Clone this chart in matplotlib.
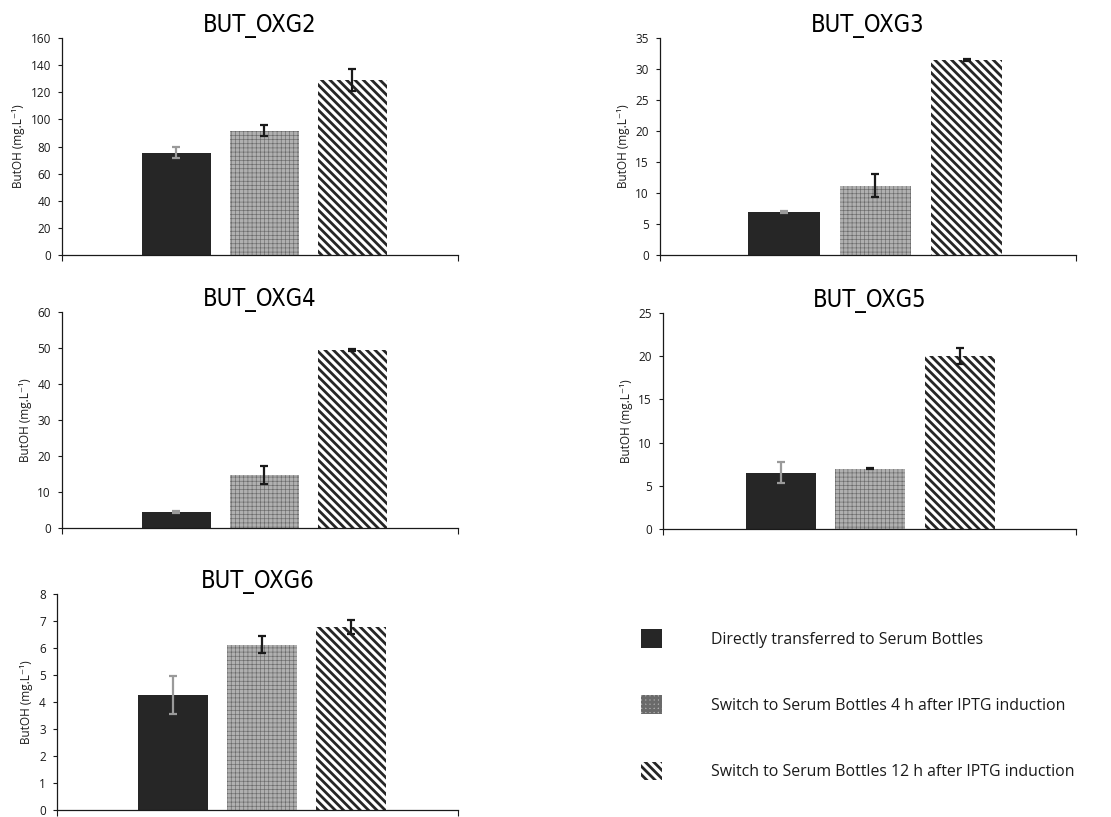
import matplotlib
matplotlib.use("Agg")
import matplotlib.pyplot as plt
from matplotlib.patches import Patch

plt.rcParams['font.family'] = ['Open Sans', 'DejaVu Sans']

titles = ["BUT_OXG2", "BUT_OXG3", "BUT_OXG4", "BUT_OXG5", "BUT_OXG6"]
series_labels = ["Directly transferred to Serum Bottles",
                 "Switch to Serum Bottles 4 h after IPTG induction",
                 "Switch to Serum Bottles 12 h after IPTG induction"]
direct = [75.5, 6.9, 4.4, 6.5, 4.25]
direct_err = [4.0, 0.15, 0.3, 1.2, 0.7]
switch4 = [91.5, 11.2, 14.8, 7.0, 6.12]
switch4_err = [4.0, 1.8, 2.5, 0.08, 0.32]
switch12 = [129.0, 31.4, 49.4, 20.0, 6.77]
switch12_err = [8.0, 0.15, 0.3, 0.9, 0.25]
ymax = [160, 35, 60, 25, 8]
ystep = [20, 5, 10, 5, 1]

W, H = 1111, 817
fig = plt.figure(figsize=(W / 100, H / 100), dpi=100)

# axes rectangles in pixels: left, right, top, bottom
rects = [(62, 458, 38, 255), (660, 1076, 38, 255), (62, 458, 312, 528),
         (663, 1076, 313, 529), (57, 458, 594, 810)]
xlims = [(-1.3, 3.2), (-1.36, 3.2), (-1.3, 3.2), (-1.31, 3.29), (-1.3, 3.2)]

styles = [dict(facecolor='#262626', edgecolor='#262626', hatch=None),
          dict(facecolor='#b0b0b0', edgecolor='#6a6a6a', hatch='++++'),
          dict(facecolor='white', edgecolor='#262626', hatch='\\\\\\\\')]
hatch_lw = [0.5, 0.45, 2.0]
err_colors = ['#9a9a9a', '#1a1a1a', '#1a1a1a']

for i, (l, r, t, b) in enumerate(rects):
    ax = fig.add_axes([l / W, 1 - b / H, (r - l) / W, (b - t) / H])
    vals = [direct[i], switch4[i], switch12[i]]
    errs = [direct_err[i], switch4_err[i], switch12_err[i]]
    for j in range(3):
        st = styles[j]
        with plt.rc_context({'hatch.linewidth': hatch_lw[j]}):
            ax.bar(j, vals[j], width=0.78, color=st['facecolor'],
                   edgecolor=st['edgecolor'], hatch=st['hatch'], linewidth=0, zorder=2)
        ax.errorbar(j, vals[j], yerr=errs[j], fmt='none', ecolor=err_colors[j],
                    elinewidth=1.6, capsize=3, capthick=1.6, zorder=3)
    ax.set_xlim(*xlims[i])
    ax.set_ylim(0, ymax[i])
    ticks = list(range(0, ymax[i] + 1, ystep[i]))
    ax.set_yticks(ticks)
    ax.set_xticks(list(xlims[i]))
    ax.set_xticklabels([])
    ax.tick_params(axis='y', labelsize=8.5, length=3, width=0.8, colors='#1a1a1a', pad=5)
    ax.tick_params(axis='x', length=4, width=0.8, colors='#1a1a1a')
    for s in ['top', 'right']:
        ax.spines[s].set_visible(False)
    for s in ['left', 'bottom']:
        ax.spines[s].set_linewidth(0.9)
        ax.spines[s].set_color('#1a1a1a')
    ax.set_ylabel("ButOH (mg.L\u207b\u00b9)", fontsize=8.5, labelpad=4, color='#1a1a1a')
    ax.set_title(titles[i], fontsize=17, family='DejaVu Sans', fontstretch='condensed',
                 pad=3, x=0.5)

handles = []
for k in range(3):
    handles.append(Patch(facecolor=styles[k]['facecolor'], edgecolor=styles[k]['edgecolor'],
                         hatch=styles[k]['hatch'], linewidth=0))
with plt.rc_context({'hatch.linewidth': 2.0}):
    leg = fig.legend(handles, series_labels, loc='upper left',
                     bbox_to_anchor=(641 / W, 1 - 629 / H), frameon=False,
                     fontsize=11.4, handlelength=1.3, handleheight=1.45,
                     handletextpad=3.1, labelspacing=3.0, borderpad=0, borderaxespad=0)
for t in leg.get_texts():
    t.set_color('#1a1a1a')

fig.savefig("out.png", dpi=100)
